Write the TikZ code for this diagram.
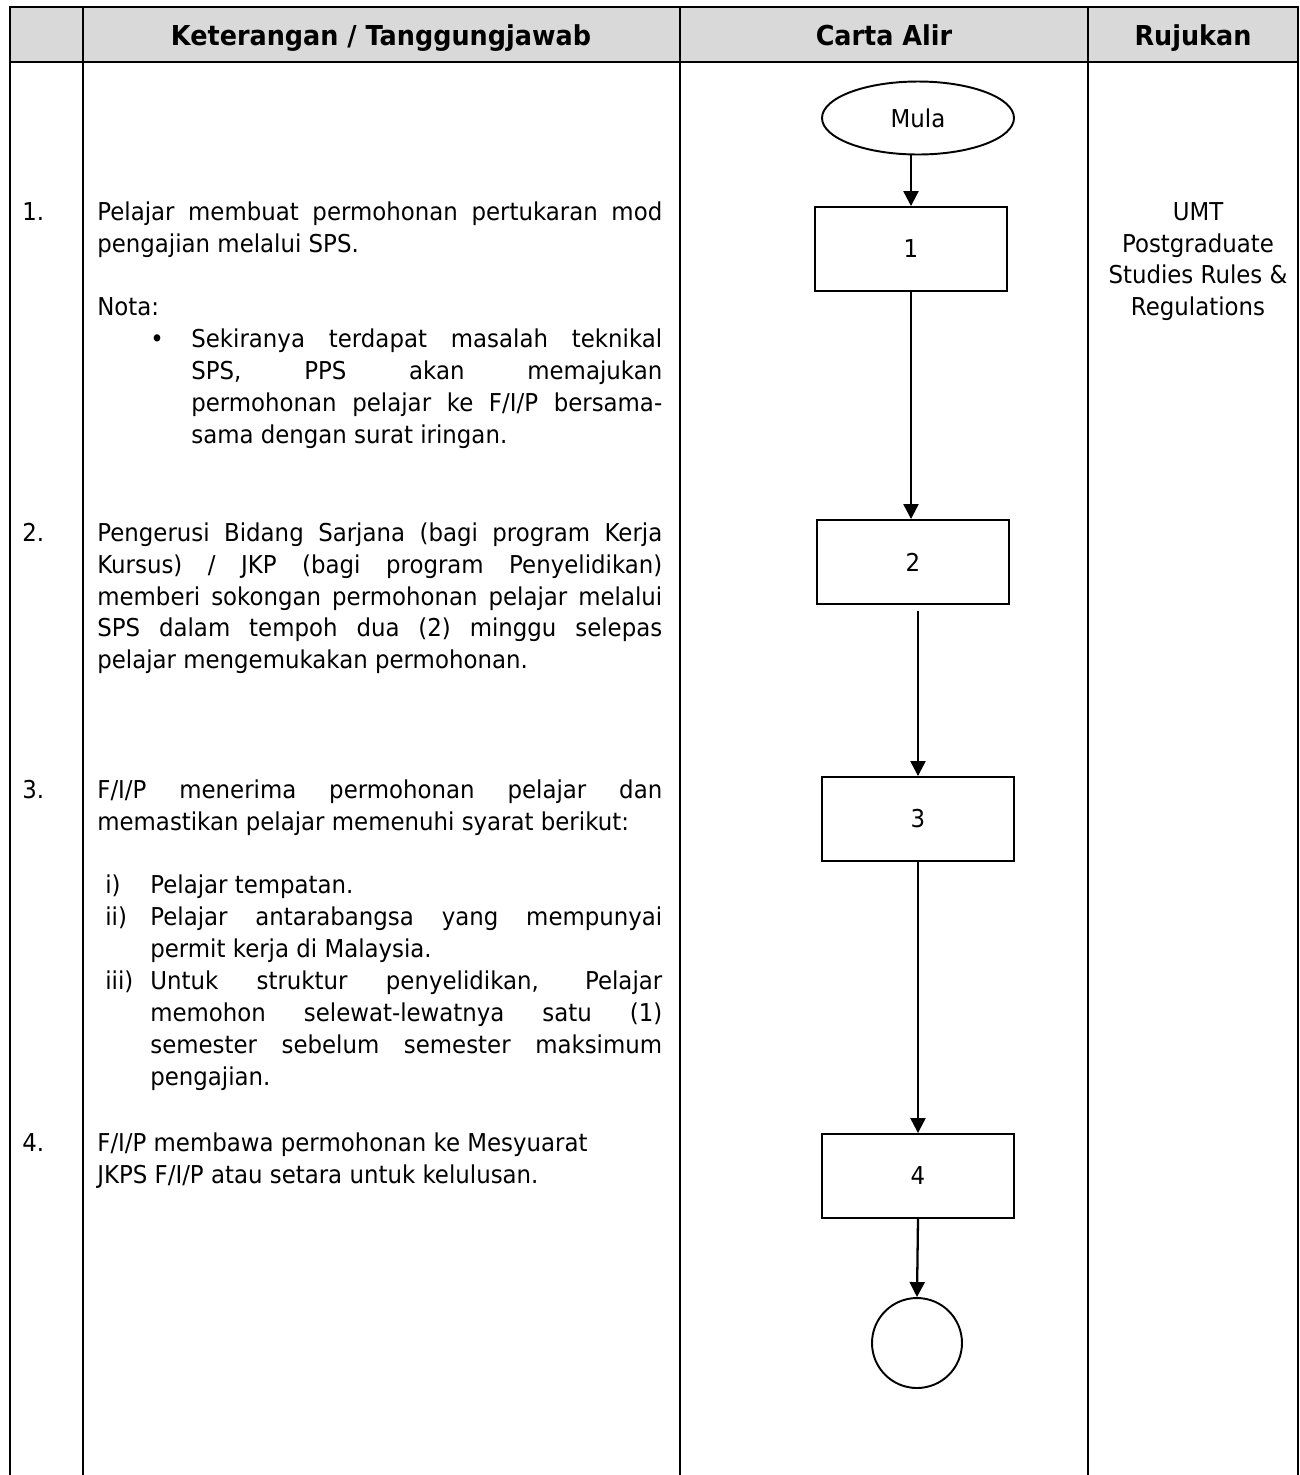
\documentclass[tikz,border=0pt]{standalone}
\usepackage{fontspec}
\setmainfont{DejaVu Sans}[FakeStretch=0.93]
\usetikzlibrary{shapes.geometric}
\usetikzlibrary{arrows.meta}

\definecolor{headgray}{gray}{0.85}
\setlength{\parindent}{0pt}
\newcommand{\bodyfont}{\fontsize{14}{18.21}\selectfont}
\newcommand{\headfont}{\fontsize{15.6}{20}\selectfont\bfseries}
% numbered sub item with hanging text
\newcommand{\syaratitem}[2]{\par\hangindent=1.06cm\hangafter=1\makebox[1.06cm][l]{\hspace{0.16cm}#1}#2}
% bullet item
\newcommand{\bulitem}[1]{\par\hangindent=1.88cm\hangafter=1\makebox[1.88cm][l]{\hspace{1.06cm}\textbullet}#1}

\tikzset{
  procbox/.style={draw, line width=1.1pt, minimum width=3.84cm, minimum height=1.68cm, inner sep=0pt},
  startend/.style={ellipse, draw, line width=1.1pt, minimum width=3.84cm, minimum height=1.46cm, inner sep=0pt},
  endcircle/.style={circle, draw, line width=1.1pt, minimum size=1.8cm, inner sep=0pt},
  flowarrow/.style={-{Triangle[length=0.3cm,width=0.3cm]}, line width=1.3pt},
  headtext/.style={font=\headfont, anchor=base, inner sep=0pt},
  rowtext/.style={anchor=base west, inner sep=0pt},
}

\begin{document}
\begin{tikzpicture}[x=0.02cm, y=-0.02cm, font=\bodyfont]
        \useasboundingbox (0,0) rectangle (1300,1475);

        % table frame, open at the bottom
        \fill[headgray] (10,7) rectangle (1298,62);
        \draw[line width=1.15pt] (10,1475) -- (10,7) -- (1298,7) -- (1298,1475);
        \draw[line width=1.15pt] (10,62) -- (1298,62);
        \foreach \x in {83,680,1088}
            \draw[line width=1.15pt] (\x,7) -- (\x,1475);

        \node[headtext] (hket) at (381,45) {Keterangan / Tanggungjawab};
        \node[headtext] (hcarta) at (884,45) {Carta Alir};
        \node[headtext] (hruj) at (1193,45) {Rujukan};

        % step numbers
        \node[rowtext] (n1) at (22,220) {1.};
        \node[rowtext] (n2) at (22,541) {2.};
        \node[rowtext] (n3) at (22,798) {3.};
        \node[rowtext] (n4) at (22,1151) {4.};

        \node[rowtext] (t1) at (97,220) {\parbox[t]{11.3cm}{\bodyfont
            Pelajar membuat permohonan pertukaran mod\linebreak
            pengajian melalui SPS.\par
            \vspace{\baselineskip}
            Nota:
            \bulitem{Sekiranya terdapat masalah teknikal\linebreak
            SPS, PPS akan memajukan\linebreak
            permohonan pelajar ke F/I/P bersama-\linebreak
            sama dengan surat iringan.}}};

        \node[rowtext] (t2) at (97,541) {\parbox[t]{11.3cm}{\bodyfont
            Pengerusi Bidang Sarjana (bagi program Kerja\linebreak
            Kursus) / JKP (bagi program Penyelidikan)\linebreak
            memberi sokongan permohonan pelajar melalui\linebreak
            SPS dalam tempoh dua (2) minggu selepas\linebreak
            pelajar mengemukakan permohonan.}};

        \node[rowtext] (t3) at (97,798) {\parbox[t]{11.3cm}{\bodyfont
            F/I/P menerima permohonan pelajar dan\linebreak
            memastikan pelajar memenuhi syarat berikut:\par
            \vspace{\baselineskip}
            \syaratitem{i)}{Pelajar tempatan.}
            \syaratitem{ii)}{Pelajar antarabangsa yang mempunyai\linebreak
            permit kerja di Malaysia.}
            \syaratitem{iii)}{Untuk struktur penyelidikan, Pelajar\linebreak
            memohon selewat-lewatnya satu (1)\linebreak
            semester sebelum semester maksimum\linebreak
            pengajian.}}};

        \node[rowtext] (t4) at (97,1151) {\parbox[t]{11.3cm}{\bodyfont
            F/I/P membawa permohonan ke Mesyuarat\newline
            JKPS F/I/P atau setara untuk kelulusan.}};

        \node[anchor=base, inner sep=0pt] (ruj) at (1198,220) {\parbox[t]{4cm}{\centering\bodyfont
            UMT\\Postgraduate\\Studies Rules \&\\Regulations}};

        % flow chart
        \node[startend] (mula) at (918,118) {Mula};
        \node[procbox] (b1) at (911,249) {1};
        \node[procbox] (b2) at (913,562) {2};
        \node[procbox] (b3) at (918,819) {3};
        \node[procbox] (b4) at (918,1176) {4};
        \node[endcircle] (tamat) at (917,1343) {};

        \draw[flowarrow] (b1.north |- mula.south) -- (b1.north);
        \draw[flowarrow] (b1.south) -- (b1.south |- b2.north);
        \draw[flowarrow, shorten <=0.12cm] (b3.north |- b2.south) -- (b3.north);
        \draw[flowarrow] (b3.south) -- (b4.north);
        \draw[flowarrow] (b4.south) -- (tamat.north);
\end{tikzpicture}
\end{document}
